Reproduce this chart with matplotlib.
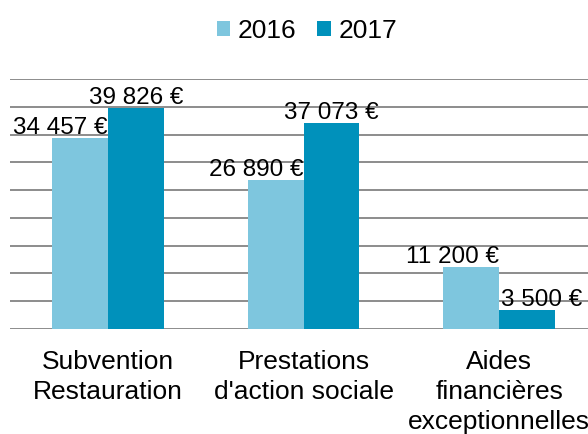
import matplotlib.pyplot as plt
import numpy as np

plt.rcParams['font.family'] = ['Liberation Sans', 'DejaVu Sans']

categories = ['Subvention\nRestauration', "Prestations\nd'action sociale", 'Aides\nfinancières\nexceptionnelles']
years = ['2016', '2017']
v2016 = [34457, 26890, 11200]
v2017 = [39826, 37073, 3500]
labels2016 = ['34 457 €', '26 890 €', '11 200 €']
labels2017 = ['39 826 €', '37 073 €', '3 500 €']

col16 = '#7EC6DE'
col17 = '#0091BB'

fig = plt.figure(figsize=(5.88, 4.35), dpi=100)
ax = fig.add_axes([10/588, 105/435, 587/588, 250/435])

x = np.arange(len(categories))
w = 0.286
b16 = ax.bar(x - w/2, v2016, w, color=col16, label=years[0], zorder=2)
b17 = ax.bar(x + w/2, v2017, w, color=col17, label=years[1], zorder=2)

ax.set_xlim(-0.5, 2.5)
ax.set_ylim(0, 45000)
ax.set_yticks(np.arange(0, 45001, 5000))
ax.yaxis.grid(True, color='#8C8C8C', linewidth=1.4, zorder=0)
ax.set_axisbelow(True)
ax.tick_params(left=False, labelleft=False, bottom=False)
for s in ax.spines.values():
    s.set_visible(False)

# last label runs off the right edge, as in the original
ax.set_xticks(x)
ax.set_xticklabels(categories, fontsize=19, linespacing=1.3)
ax.tick_params(axis='x', pad=11)

for r, t in zip(b16, labels2016):
    ax.annotate(t, (r.get_x() + r.get_width(), r.get_height()), xytext=(0, 0),
                textcoords='offset points', ha='right', va='bottom', fontsize=17.5)
for i, (r, t) in enumerate(zip(b17, labels2017)):
    if i == len(b17) - 1:
        ax.annotate(t, (r.get_x(), r.get_height()), xytext=(1, 0),
                    textcoords='offset points', ha='left', va='bottom', fontsize=17.5)
    else:
        ax.annotate(t, (r.get_x() + r.get_width()/2, r.get_height()), xytext=(0, 0),
                    textcoords='offset points', ha='center', va='bottom', fontsize=17.5)

fig.legend(loc='upper center', bbox_to_anchor=(0.522, 1.01), ncol=2, frameon=False,
           fontsize=19, handlelength=0.5, handleheight=0.5, handletextpad=0.3,
           columnspacing=0.8)

fig.savefig('out.png', dpi=100)
